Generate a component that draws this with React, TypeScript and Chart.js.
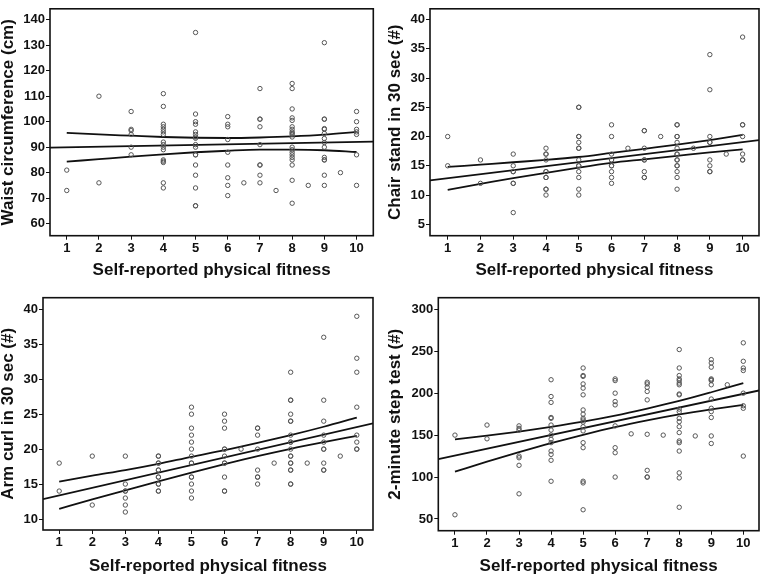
import React, { useEffect, useRef } from "react";
import { Chart, registerables } from "chart.js";

Chart.register(...registerables);

// ---------- DATA ----------
const fitnessLevels = [1, 2, 3, 4, 5, 6, 6.5, 7, 7.5, 8, 8.5, 9, 9.5, 10];
const fitnessTicks = [1, 2, 3, 4, 5, 6, 7, 8, 9, 10];
const bandLevels = [1, 2, 3, 4, 5, 6, 7, 8, 9, 10];

// Waist circumference (cm)
const waistValues = [
  [81, 73],
  [110, 76],
  [104, 97, 96.5, 95, 90, 87],
  [111, 106, 99, 98, 97, 96, 95, 92, 91, 90, 89, 85, 84.5, 84, 76, 74],
  [135, 103, 100, 99, 96, 95, 94, 93.5, 91, 90, 87, 87, 83, 79, 74, 67, 67],
  [102, 99, 98, 93, 88, 83, 78, 75, 71],
  [76],
  [113, 101, 101, 98, 91, 83, 83, 79, 76],
  [73],
  [115, 113, 105, 101.5, 100.5, 98, 97, 96, 95.5, 95, 94, 90, 89, 88, 87, 86, 85, 83, 77, 68],
  [75],
  [131, 101, 101, 97.3, 97, 95.4, 93.4, 91.8, 90, 86, 85, 85, 79, 75],
  [80],
  [104, 100, 97, 96, 95, 87, 75],
];
const waistTicks = [60, 70, 80, 90, 100, 110, 120, 130, 140];
const waistFitX = [0.48, 10.52];
const waistFitY = [89.8, 92.2];
const waistUpper = [95.6, 95.0, 94.5, 94.0, 93.7, 93.6, 93.8, 94.2, 94.9, 96.0];
const waistLower = [84.3, 85.3, 86.3, 87.2, 88.0, 88.6, 89.0, 89.0, 88.8, 88.1];

// Chair stand in 30 sec (#)
const chairValues = [
  [20, 15],
  [16, 12],
  [17, 15, 14, 14, 12, 12, 7],
  [18, 17, 17, 16, 14, 14, 13, 13, 11, 11, 10],
  [25, 25, 20, 20, 19, 18, 18, 16, 15, 15, 14, 13, 11, 10],
  [22, 20, 17, 16, 16, 15, 15, 14, 13, 12],
  [18],
  [21, 21, 18, 16, 16, 14, 13, 13],
  [20],
  [22, 22, 20, 20, 19, 18, 17, 17, 16, 16, 15, 15, 14, 13, 11],
  [18],
  [34, 28, 20, 19, 19, 16, 15, 14, 14],
  [17],
  [37, 22, 22, 20, 17, 16, 16],
];
const chairTicks = [5, 10, 15, 20, 25, 30, 35, 40];
const chairFitX = [0.46, 10.5];
const chairFitY = [12.5, 19.4];
const chairUpper = [14.8, 15.2, 15.6, 16.0, 16.5, 17.2, 17.9, 18.6, 19.4, 20.3];
const chairLower = [10.9, 11.9, 12.9, 13.8, 14.7, 15.5, 16.1, 16.7, 17.3, 17.8];

// Arm curl in 30 sec (#)
const armValues = [
  [18, 14],
  [19, 12],
  [19, 15, 14, 14, 13, 12, 11],
  [19, 19, 18, 18, 17, 17, 16, 16, 15, 15, 14, 14],
  [26, 25, 23, 22, 21, 20, 19, 18, 18, 16, 16, 15, 14, 13],
  [25, 24, 23, 20, 20, 19, 18, 18, 16, 14, 14],
  [20],
  [23, 23, 22, 20, 17, 16, 16, 15],
  [18],
  [31, 27, 27, 25, 24, 24, 22, 21, 21, 20, 19, 19, 18, 18, 17, 17, 15, 15],
  [18],
  [36, 27, 24, 22, 21, 20, 20, 18, 17, 17],
  [19],
  [39, 33, 31, 26, 22, 21, 20, 20],
];
const armTicks = [10, 15, 20, 25, 30, 35, 40];
const armFitX = [0.51, 10.49];
const armFitY = [12.85, 23.7];
const armUpper = [15.35, 16.2, 17.0, 17.9, 18.9, 19.85, 20.9, 22.0, 23.2, 24.5];
const armLower = [11.45, 12.8, 14.1, 15.4, 16.65, 17.85, 19.0, 20.05, 21.0, 21.9];

// 2-minute step test (#)
const stepValues = [
  [150, 55],
  [162, 145.6],
  [161, 158, 156, 125, 123, 114, 80],
  [216, 196, 189, 171, 170, 162, 156, 150, 145, 141, 131, 127, 120, 95],
  [230, 221, 220, 211, 206, 198, 180, 175, 170, 168, 165.5, 160, 155, 141, 135, 95, 93, 61],
  [217, 215, 200, 190, 186, 161, 135, 129, 100],
  [151.5],
  [213, 211, 207, 202, 192, 151, 108, 100, 100],
  [150],
  [252, 230, 221, 217, 215, 212, 210, 199, 198, 181, 178, 170, 166, 160, 153, 143, 141, 131, 105, 99, 64],
  [149],
  [240, 236, 231, 217, 216, 215, 210, 193, 182, 178, 171, 149, 140],
  [210],
  [260, 238, 230, 227, 200, 185, 182, 125],
];
const stepTicks = [50, 100, 150, 200, 250, 300];
const stepFitX = [0.48, 10.49];
const stepFitY = [121.4, 203.2];
const stepUpper = [144.8, 149.3, 154.2, 159.8, 166.0, 173.2, 181.6, 190.7, 201.1, 212.1];
const stepLower = [106.4, 118.3, 129.6, 140.4, 150.4, 159.6, 167.6, 174.7, 180.7, 186.0];

const xTitle = "Self-reported physical fitness";

// ---------- PANELS ----------
type Panel = {
  title: string;
  values: number[][];
  yTicks: number[];
  fitX: number[];
  fitY: number[];
  upper: number[];
  lower: number[];
  yMin: number;
  yMax: number;
  xMin: number;
  xMax: number;
  left: number;
  top: number;
  width: number;
  height: number;
  padTop: number;
  padRight: number;
  yAxisWidth: number;
  xAxisHeight: number;
  yTitlePad: number;
  xTitleLH: number;
  xTitlePad: number;
};

const panels: Panel[] = [
  {
    title: "Waist circumference (cm)",
    values: waistValues, yTicks: waistTicks, fitX: waistFitX, fitY: waistFitY,
    upper: waistUpper, lower: waistLower,
    yMin: 55.26, yMax: 144.3, xMin: 0.48, xMax: 10.52,
    left: 0, top: 0, width: 380, height: 287,
    padTop: 2.7, padRight: 6.7, yAxisWidth: 50, xAxisHeight: 51.3,
    yTitlePad: 0, xTitleLH: 1, xTitlePad: 8.5,
  },
  {
    title: "Chair stand in 30 sec (#)",
    values: chairValues, yTicks: chairTicks, fitX: chairFitX, fitY: chairFitY,
    upper: chairUpper, lower: chairLower,
    yMin: 3.05, yMax: 41.83, xMin: 0.46, xMax: 10.5,
    left: 380, top: 0, width: 384, height: 287,
    padTop: 3, padRight: 2.3, yAxisWidth: 50, xAxisHeight: 51.3,
    yTitlePad: 7, xTitleLH: 1, xTitlePad: 8.5,
  },
  {
    title: "Arm curl in 30 sec (#)",
    values: armValues, yTicks: armTicks, fitX: armFitX, fitY: armFitY,
    upper: armUpper, lower: armLower,
    yMin: 8.43, yMax: 41.66, xMin: 0.51, xMax: 10.49,
    left: 0, top: 287, width: 380, height: 287,
    padTop: 10.7, padRight: 7, yAxisWidth: 43, xAxisHeight: 44,
    yTitlePad: 0, xTitleLH: 0.8, xTitlePad: 0.5,
  },
  {
    title: "2-minute step test (#)",
    values: stepValues, yTicks: stepTicks, fitX: stepFitX, fitY: stepFitY,
    upper: stepUpper, lower: stepLower,
    yMin: 36.05, yMax: 313.8, xMin: 0.48, xMax: 10.49,
    left: 380, top: 287, width: 384, height: 287,
    padTop: 10.7, padRight: 3.3, yAxisWidth: 58.3, xAxisHeight: 43.3,
    yTitlePad: 7, xTitleLH: 0.8, xTitlePad: 0.5,
  },
];

const FONT = "'Liberation Sans', Arial, Helvetica, sans-serif";
const INK = "#111";

const framePlugin = {
  id: "frame",
  afterDatasetsDraw(chart: any) {
    const { ctx, chartArea } = chart;
    ctx.save();
    ctx.strokeStyle = INK;
    ctx.lineWidth = 1.6;
    ctx.strokeRect(chartArea.left, chartArea.top, chartArea.right - chartArea.left, chartArea.bottom - chartArea.top);
    ctx.restore();
  },
};

function PanelChart({ p }: { p: Panel }) {
  const ref = useRef<HTMLCanvasElement | null>(null);
  useEffect(() => {
    if (!ref.current) return;
    const points: { x: number; y: number }[] = [];
    fitnessLevels.forEach((lvl, i) => {
      p.values[i].forEach((v) => points.push({ x: lvl, y: v }));
    });
    const lineStyle = {
      showLine: true,
      pointRadius: 0,
      borderColor: INK,
      borderWidth: 1.8,
      backgroundColor: INK,
      fill: false,
    };
    const chart = new Chart(ref.current, {
      type: "scatter",
      data: {
        datasets: [
          {
            data: points,
            pointRadius: 2.2,
            pointBorderWidth: 1,
            pointBorderColor: "#555",
            pointBackgroundColor: "rgba(0,0,0,0)",
            showLine: false,
          } as any,
          {
            ...lineStyle,
            data: p.fitX.map((x, i) => ({ x, y: p.fitY[i] })),
          } as any,
          {
            ...lineStyle,
            cubicInterpolationMode: "monotone",
            data: bandLevels.map((x, i) => ({ x, y: p.upper[i] })),
          } as any,
          {
            ...lineStyle,
            cubicInterpolationMode: "monotone",
            data: bandLevels.map((x, i) => ({ x, y: p.lower[i] })),
          } as any,
        ],
      },
      options: {
        responsive: false,
        animation: false,
        events: [],
        layout: { padding: { top: p.padTop, right: p.padRight, left: 0, bottom: 0 } },
        plugins: { legend: { display: false }, tooltip: { enabled: false } },
        scales: {
          x: {
            type: "linear",
            min: p.xMin,
            max: p.xMax,
            afterBuildTicks: (scale: any) => {
              scale.ticks = fitnessTicks.map((v) => ({ value: v }));
            },
            afterFit: (scale: any) => {
              scale.height = p.xAxisHeight;
            },
            border: { display: false },
            grid: { drawOnChartArea: false, drawTicks: true, tickLength: 4, color: INK, lineWidth: 1 },
            ticks: {
              autoSkip: false,
              maxRotation: 0,
              padding: 1,
              color: INK,
              font: { family: FONT, size: 13, weight: "bold" },
            },
            title: {
              display: true,
              text: xTitle,
              color: INK,
              font: { family: FONT, size: 17, weight: "bold", lineHeight: p.xTitleLH },
              padding: { top: 0, bottom: p.xTitlePad },
            },
          },
          y: {
            type: "linear",
            min: p.yMin,
            max: p.yMax,
            afterBuildTicks: (scale: any) => {
              scale.ticks = p.yTicks.map((v) => ({ value: v }));
            },
            afterFit: (scale: any) => {
              scale.width = p.yAxisWidth;
            },
            border: { display: false },
            grid: { drawOnChartArea: false, drawTicks: true, tickLength: 4, color: INK, lineWidth: 1 },
            ticks: {
              autoSkip: false,
              padding: 1,
              color: INK,
              font: { family: FONT, size: 13, weight: "bold" },
            },
            title: {
              display: true,
              text: p.title,
              color: INK,
              font: { family: FONT, size: 17, weight: "bold", lineHeight: 1 },
              padding: { top: p.yTitlePad, bottom: 0 },
            },
          },
        },
      } as any,
      plugins: [framePlugin],
    });
    return () => chart.destroy();
  }, [p]);
  return (
    <canvas
      ref={ref}
      width={p.width}
      height={p.height}
      style={{ position: "absolute", left: p.left, top: p.top, width: p.width, height: p.height }}
    />
  );
}

export default function App() {
  return (
    <div style={{ position: "absolute", left: 0, top: 0, width: 764, height: 574, background: "#fff", overflow: "hidden" }}>
      {panels.map((p, i) => (
        <PanelChart key={i} p={p} />
      ))}
    </div>
  );
}
